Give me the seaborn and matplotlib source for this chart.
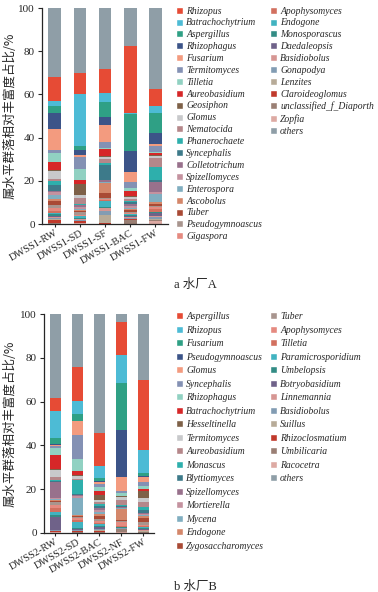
import numpy as np
import matplotlib
matplotlib.use("Agg")
import matplotlib.pyplot as plt
import seaborn as sns
from matplotlib.patches import Patch

sns.set_style("ticks")
plt.rcParams['font.family'] = ['Liberation Serif', 'Noto Sans CJK SC']
plt.rcParams['axes.linewidth'] = 0.9

# colours by legend position (same for both plants)
palette = ["#E64B35", "#4DBBD5", "#2FA085", "#3C5488", "#F39B7F", "#8491B4", "#91D1C2",
           "#D62728", "#7E6148", "#C8C9CB", "#B5878A", "#2EAFAC", "#3D7A8A", "#98718C",
           "#C4929F", "#80AEC0", "#D4876A", "#A94A35", "#A8958E", "#E58A80", "#D2705F",
           "#41B3C0", "#338C85", "#6F6289", "#D69693", "#829CB3", "#B7AB98", "#C0392B",
           "#9A7F74", "#DDAAA3", "#8F9EA7"]

# --- 水厂A ---
samples_a = ["DWSS1-RW", "DWSS1-SD", "DWSS1-SF", "DWSS1-BAC", "DWSS1-FW"]
genera_a = ["Rhizopus", "Batrachochytrium", "Aspergillus", "Rhizophagus", "Fusarium",
            "Termitomyces", "Tilletia", "Aureobasidium", "Geosiphon", "Glomus",
            "Nematocida", "Phanerochaete", "Syncephalis", "Colletotrichum", "Spizellomyces",
            "Enterospora", "Ascobolus", "Tuber", "Pseudogymnoascus", "Gigaspora",
            "Apophysomyces", "Endogone", "Monosporascus", "Daedaleopsis", "Basidiobolus",
            "Gonapodya", "Lenzites", "Claroideoglomus", "unclassified_f_Diaporth", "Zopfia",
            "others"]
rw_a = [11.0, 2.3, 3.4, 7.1, 9.8, 1.3, 4.4, 3.6, 0.6, 3.5, 1.2, 1.5, 3.0, 0.6, 1.0, 2.2, 0.8,
        1.8, 1.6, 1.0, 1.2, 0.6, 0.8, 0.4, 0.6, 0.5, 0.4, 1.2, 0.3, 0.2, 32.1]
sd_a = [10.1, 23.7, 2.0, 2.5, 0.6, 5.9, 4.9, 2.0, 5.0, 1.5, 2.5, 0.5, 0.3, 0.5, 1.2, 0.4, 0.6,
        0.4, 1.2, 0.5, 0.3, 0.8, 0.4, 0.2, 0.3, 0.2, 0.2, 0.8, 0.3, 0.3, 29.9]
sf_a = [11.0, 4.2, 6.9, 3.9, 8.0, 2.5, 0.7, 3.1, 0.5, 0.7, 2.2, 0.6, 7.1, 0.8, 0.3, 0.3, 4.5,
        2.4, 0.3, 0.7, 0.3, 3.0, 0.3, 0.3, 1.0, 2.2, 3.6, 0.2, 0.1, 0.1, 28.2]
bac_a = [31.4, 0.3, 17.0, 10.0, 4.3, 3.1, 1.1, 2.3, 0.4, 1.1, 0.8, 0.4, 1.0, 1.2, 0.6, 0.5, 0.8,
         0.6, 0.5, 0.4, 0.3, 0.3, 0.4, 0.6, 0.3, 0.4, 0.3, 0.2, 1.8, 0.2, 17.4]
fw_a = [7.9, 3.1, 9.5, 5.0, 0.8, 2.7, 0.6, 1.0, 0.3, 1.2, 3.9, 6.1, 0.8, 4.9, 0.9, 3.5, 1.0,
        0.8, 0.5, 1.0, 1.3, 0.3, 0.3, 1.2, 0.6, 0.8, 0.5, 0.3, 0.5, 1.2, 37.5]

# --- 水厂B ---
samples_b = ["DWSS2-RW", "DWSS2-SD", "DWSS2-BAC", "DWSS2-NF", "DWSS2-FW"]
genera_b = ["Aspergillus", "Rhizopus", "Fusarium", "Pseudogymnoascus", "Glomus", "Syncephalis",
            "Rhizophagus", "Batrachochytrium", "Hesseltinella", "Termitomyces", "Aureobasidium",
            "Monascus", "Blyttiomyces", "Spizellomyces", "Mortierella", "Mycena", "Endogone",
            "Zygosaccharomyces", "Tuber", "Apophysomyces", "Tilletia", "Paramicrosporidium",
            "Umbelopsis", "Botryobasidium", "Linnemannia", "Basidiobolus", "Suillus",
            "Rhizoclosmatium", "Umbilicaria", "Racocetra", "others"]
rw_b = [5.7, 12.6, 2.6, 0.4, 0.6, 0.9, 3.1, 6.5, 0.3, 3.1, 1.5, 0.4, 0.7, 7.3, 0.5, 0.3, 0.5,
        0.3, 1.5, 1.2, 1.8, 1.5, 0.8, 6.0, 0.2, 0.2, 0.2, 0.2, 0.2, 0.4, 38.5]
sd_b = [15.3, 6.1, 3.0, 0.3, 6.1, 11.3, 5.2, 1.9, 0.3, 1.6, 0.4, 6.6, 0.4, 0.4, 0.6, 8.0, 0.6,
        0.4, 0.4, 0.8, 1.0, 2.9, 0.4, 0.2, 0.2, 0.2, 0.1, 0.6, 0.2, 0.2, 24.3]
bac_b = [15.1, 5.4, 1.6, 0.3, 1.2, 1.1, 1.9, 1.8, 2.3, 1.1, 0.8, 0.8, 1.2, 0.8, 0.8, 1.0, 1.0,
         1.4, 0.8, 0.8, 0.6, 0.8, 0.6, 0.6, 0.4, 0.4, 0.3, 0.4, 0.3, 0.2, 54.2]
nf_b = [15.2, 13.0, 21.3, 21.6, 6.1, 1.2, 1.1, 0.2, 0.2, 1.5, 2.5, 0.4, 0.3, 0.3, 0.4, 0.2, 5.1,
        0.3, 0.4, 2.0, 0.4, 0.2, 0.1, 0.2, 0.2, 0.2, 0.1, 0.1, 1.4, 0.3, 3.5]
fw_b = [32.0, 10.6, 1.3, 0.6, 2.3, 1.5, 1.5, 0.9, 3.4, 1.8, 2.0, 1.5, 1.5, 0.4, 0.6, 0.4, 0.6,
        2.0, 1.2, 0.6, 0.6, 0.4, 0.4, 0.4, 0.3, 0.3, 0.2, 0.2, 0.2, 0.2, 30.1]

W, H = 378, 592
fig = plt.figure(figsize=(W / 100, H / 100), dpi=100)


def px(x0, y0, x1, y1):
    return [x0 / W, 1 - y1 / H, (x1 - x0) / W, (y1 - y0) / H]


def stacked(ax, samples, table):
    vals = np.array(table)
    n = vals.shape[1] - 1
    # tallest first, then overwrite downwards (others on top, last genus at bottom)
    for i in [n] + list(range(n)):
        tops = vals.sum(axis=1) if i == n else vals[:, i:n].sum(axis=1)
        sns.barplot(x=samples, y=tops, color=palette[i], width=0.5, saturation=1,
                    errorbar=None, linewidth=0, ax=ax)
    ax.set_ylim(0, 100)
    ax.set_yticks(range(0, 101, 20))
    ax.set_xlabel("")
    ax.set_ylabel("属水平群落相对丰富度占比/%", fontsize=9,
                  family=['Noto Sans CJK SC', 'DejaVu Sans'])
    ax.tick_params(axis='y', length=3, width=0.8, labelsize=8, pad=2)
    ax.tick_params(axis='x', length=2, width=0.8, labelsize=7.5, pad=1)
    for lab in ax.get_xticklabels():
        lab.set_rotation(30)
        lab.set_ha('right')
        lab.set_rotation_mode('anchor')
    sns.despine(ax=ax)


def legends(genera, split, y_top, spacing):
    handles = [Patch(facecolor=palette[i], label=g) for i, g in enumerate(genera)]
    kw = dict(loc='upper left', frameon=False, borderpad=0, borderaxespad=0,
              handlelength=0.75, handleheight=0.75, handletextpad=0.3,
              labelspacing=spacing, prop={'style': 'italic', 'size': 6.9})
    fig.legend(handles=handles[:split], bbox_to_anchor=(176 / W, 1 - y_top / H), **kw)
    fig.legend(handles=handles[split:], bbox_to_anchor=(270 / W, 1 - y_top / H), **kw)


ax1 = fig.add_axes(px(42, 8, 168, 224))
stacked(ax1, samples_a, [rw_a, sd_a, sf_a, bac_a, fw_a])
ax1.yaxis.set_label_coords(-0.2, 0.5)
legends(genera_a, 20, 6.5, 0.3)
fig.text(174 / W, 1 - 285 / H, "a 水厂A", fontsize=9, va='center')

ax2 = fig.add_axes(px(44, 314, 154, 533))
stacked(ax2, samples_b, [rw_b, sd_b, bac_b, nf_b, fw_b])
ax2.yaxis.set_label_coords(-0.245, 0.5)
legends(genera_b, 18, 312, 0.47)
fig.text(174 / W, 1 - 587 / H, "b 水厂B", fontsize=9, va='center')

fig.savefig("out.png", dpi=100)
